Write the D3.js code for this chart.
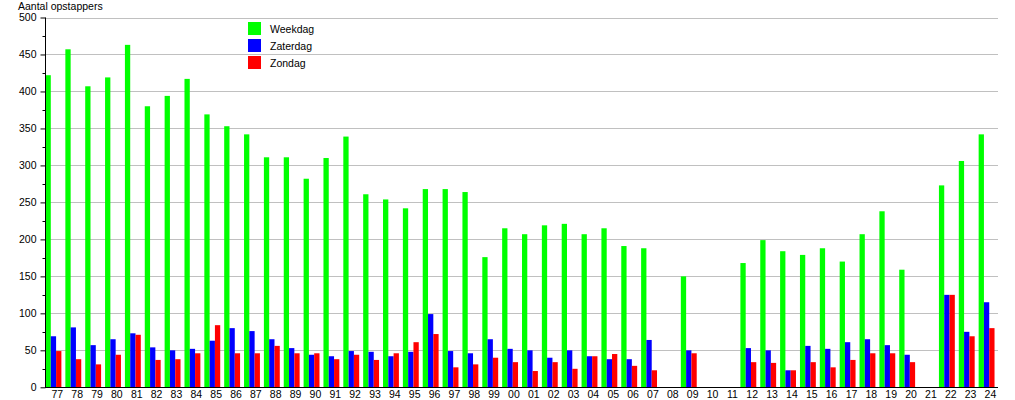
<!DOCTYPE html>
<html>
<head>
<meta charset="utf-8">
<script src="https://cdn.jsdelivr.net/npm/d3@7"></script>
<style>
  html, body { margin: 0; padding: 0; background: #fff; }
  svg { display: block; font-family: "Liberation Sans", Arial, sans-serif; }
</style>
</head>
<body>
<svg id="chart" width="1015" height="400"></svg>
<script>
const categories = ["77","78","79","80","81","82","83","84","85","86","87","88","89","90","91","92","93","94","95","96","97","98","99",
  "00","01","02","03","04","05","06","07","08","09","10","11","12","13","14","15","16","17","18","19","20","21","22","23","24"];
const weekdag = [422,457,407,419,463,380,394,417,369,353, 342,311,311,282,310,339,261,254,242,268, 268,264,176,
  215,207,219,221,207,215,191,188,null,150, null,null,168,199,184,179,188,170,207,238, 159,null,273,306,342];
const zaterdag = [69,81,57,65,73,54,50,52,63,80, 76,65,53,44,42,49,48,42,48,99, 49,46,65,
  52,50,40,50,42,38,38,64,null,50, null,null,53,50,23,56,52,61,65,57, 44,null,125,75,115];
const zondag = [49,38,31,44,71,37,38,46,84,46, 46,56,46,46,38,44,37,46,61,72, 27,31,40,
  34,22,34,25,42,45,29,23,null,46, null,null,34,33,23,34,27,37,46,46, 34,null,125,69,80];
const seriesNames = ["Weekdag","Zaterdag","Zondag"];
const seriesColors = ["#00ff00","#0000ff","#ff0000"];
const yTicks = [0,50,100,150,200,250,300,350,400,450,500];
const yTitle = "Aantal opstappers";

(function () {
const svg = d3.select("#chart");
const pLeft = 45, pRight = 998, pTop = 17.5, pBottom = 387.3;

const x = d3.scaleBand().domain(categories).range([pLeft, pRight]).paddingInner(0).paddingOuter(0);
const y = d3.scaleLinear().domain([0, 500]).range([pBottom, pTop]);
const step = x.step();
const groupW = step * 0.8;
const bw = groupW / 3;

// grid lines
svg.append("g").selectAll("line").data(yTicks.filter(t => t > 0)).join("line")
  .attr("x1", pLeft).attr("x2", pRight)
  .attr("y1", d => Math.round(y(d)) + 0.5).attr("y2", d => Math.round(y(d)) + 0.5)
  .attr("stroke", "#c0c0c0").attr("stroke-width", 1);

// bars
const allSeries = [weekdag, zaterdag, zondag];
allSeries.forEach((vals, k) => {
  svg.append("g").selectAll("rect")
    .data(categories.map((c, i) => ({c, v: vals[i]})).filter(d => d.v != null))
    .join("rect")
    .attr("x", d => x(d.c) + 0.5 + k * bw)
    .attr("width", bw)
    .attr("y", d => y(d.v))
    .attr("height", d => y(0) - y(d.v))
    .attr("fill", seriesColors[k]);
});

// y axis
const yAxis = d3.axisLeft(y).tickValues(yTicks).tickSize(5).tickPadding(4).tickFormat(d3.format("d"));
const gy = svg.append("g").attr("transform", `translate(${pLeft + 0.5},0)`).call(yAxis);
gy.select(".domain").attr("stroke", "#000").attr("d", `M0,${pTop}V${pBottom}`);
gy.selectAll(".tick line").attr("stroke", "#000");
gy.selectAll(".tick text").attr("font-size", "10.5px").attr("fill", "#000")
  .attr("font-family", "'Liberation Sans', Arial, sans-serif");
// minor ticks
const minor = d3.range(25, 500, 50);
svg.append("g").selectAll("line").data(minor).join("line")
  .attr("x1", pLeft - 2.5).attr("x2", pLeft + 0.5)
  .attr("y1", d => Math.round(y(d)) + 0.5).attr("y2", d => Math.round(y(d)) + 0.5)
  .attr("stroke", "#000");

// x axis
const xAxis = d3.axisBottom(x).tickSize(0).tickPadding(0);
const gx = svg.append("g").attr("transform", `translate(0,${Math.round(pBottom) + 0.5})`).call(xAxis);
gx.select(".domain").attr("stroke", "#000").attr("d", `M${pLeft},0H${pRight}`);
gx.selectAll(".tick").attr("transform", d => `translate(${x(d) + step * 0.62},0)`);
gx.selectAll(".tick text").attr("font-size", "10.5px").attr("fill", "#000").attr("dy", "10")
  .attr("font-family", "'Liberation Sans', Arial, sans-serif");

// title
svg.append("text").attr("x", 18).attr("y", 9.5).attr("font-size", "10.5px").attr("fill", "#000").text(yTitle);

// legend
const lg = svg.append("g");
seriesNames.forEach((n, i) => {
  lg.append("rect").attr("x", 248).attr("y", 22 + i * 17).attr("width", 13).attr("height", 13).attr("fill", seriesColors[i]);
  lg.append("text").attr("x", 270).attr("y", 33 + i * 17).attr("font-size", "10.5px").attr("fill", "#000").text(n);
});
})();
</script>
</body>
</html>
